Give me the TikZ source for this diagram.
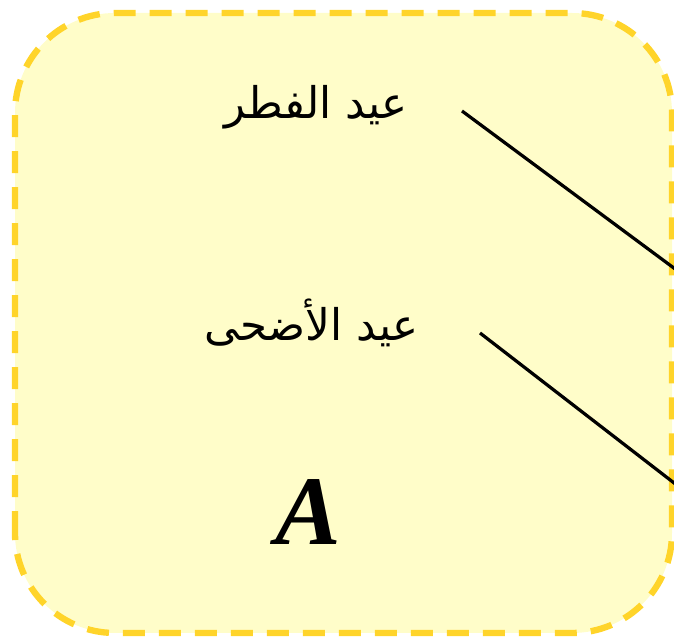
\documentclass[tikz,border=0pt]{standalone}
\usepackage{fontspec}
\usepackage{xcolor}
\setmainfont{Liberation Serif}
\newfontfamily\arabicfont[Script=Arabic]{DejaVu Sans}
\TeXXeTstate=1
\definecolor{EidFill}{HTML}{FFFDC9}
\definecolor{EidEdge}{HTML}{FFD42A}
\tikzset{
  eidlabel/.style={anchor=base,inner sep=0pt,font=\arabicfont\fontsize{31}{36}\selectfont},
  eidlink/.style={black,line width=2.3pt},
}

\begin{document}
\begin{tikzpicture}[x=1cm,y=1cm]
\path[use as bounding box] (0,0) rectangle (16.85,16.075);
\draw[EidEdge,fill=EidFill,line width=4.5pt,dash pattern=on 15.6pt off 10pt,rounded corners=2.5cm]
  (0.375,0.25) rectangle (16.80,15.75);
\node[eidlabel] (fitr) at (7.91,13.1) {\beginR عيد الفطر\endR};
\node[eidlabel] (adha) at (7.78,7.55) {\beginR عيد الأضحى\endR};
\node[anchor=base,inner sep=0pt,font=\fontsize{70}{76}\selectfont\bfseries\itshape] (setA) at (7.7,2.45) {A};
\coordinate (fitrIn) at (11.55,13.3);
\coordinate (adhaIn) at (12.0,7.75);
\coordinate (fitrOut) at (17.5,8.89);
\coordinate (adhaOut) at (17.5,3.5);
\draw[eidlink] (fitrIn) -- (fitrOut);
\draw[eidlink] (adhaIn) -- (adhaOut);
\end{tikzpicture}
\end{document}
